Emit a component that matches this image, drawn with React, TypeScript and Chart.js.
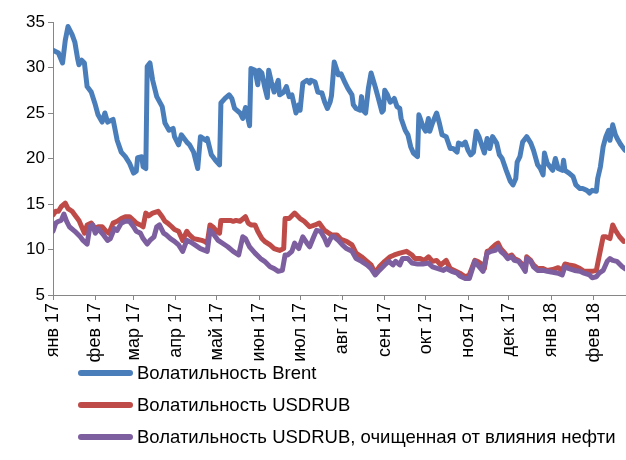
import React, { useEffect, useRef } from "react";
import { Chart, registerables } from "chart.js";

Chart.register(...registerables);

// x values are days since 1 Jan 2017
const monthStarts = [0, 31, 59, 90, 120, 151, 181, 212, 243, 273, 304, 334, 365, 396];
const monthLabels = [
  "янв 17", "фев 17", "мар 17", "апр 17", "май 17", "июн 17", "июл 17",
  "авг 17", "сен 17", "окт 17", "ноя 17", "дек 17", "янв 18", "фев 18",
];

const brentDays = [
  0, 4, 7, 9, 11, 14, 16, 18, 19, 21, 23, 25, 28, 31, 33, 36, 38, 40, 44, 47,
  50, 53, 56, 59, 61, 62, 65, 66, 68, 69, 71, 73, 76, 80, 82, 85, 88, 89, 92, 94,
  98, 100, 103, 106, 108, 112, 113, 116, 119, 122, 123, 126, 129, 131, 133, 137, 139, 141, 144, 145,
  148, 150, 151, 153, 155, 157, 158, 160, 162, 165, 166, 169, 171, 173, 175, 178, 180, 181, 183, 186,
  188, 189, 192, 194, 197, 199, 201, 203, 204, 206, 208, 209, 211, 214, 216, 219, 220, 222, 225, 226,
  227, 229, 231, 233, 236, 238, 241, 242, 243, 245, 247, 249, 250, 252, 254, 255, 258, 260, 262, 264,
  267, 268, 269, 271, 273, 275, 276, 278, 281, 283, 285, 288, 291, 293, 296, 297, 300, 302, 304, 306,
  308, 310, 312, 314, 316, 318, 320, 322, 325, 327, 329, 332, 335, 337, 339, 340, 342, 344, 347, 350,
  352, 355, 357, 359, 360, 362, 365, 366, 368, 370, 373, 374, 375, 378, 381, 383, 386, 388, 391, 393,
  395, 398, 399, 401, 403, 405, 407, 408, 410, 412, 414, 416, 419,
];
const brentVals = [
  31.9, 31.6, 30.5, 33.0, 34.5, 33.6, 32.8, 31.0, 30.3, 30.8, 30.5, 27.9, 27.3, 25.9, 24.8, 24.0, 25.0, 24.0, 24.3, 22.0,
  20.7, 20.2, 19.5, 18.4, 18.6, 20.1, 20.2, 19.1, 18.9, 30.1, 30.5, 28.6, 26.8, 25.7, 23.9, 23.1, 23.3, 22.4, 21.5, 22.6,
  21.8, 21.5, 20.7, 18.9, 22.4, 22.0, 22.2, 20.4, 19.8, 19.3, 26.1, 26.6, 27.0, 26.6, 25.5, 25.0, 24.4, 25.6, 23.6, 29.9,
  29.7, 28.1, 29.7, 29.4, 27.9, 26.7, 29.7, 28.4, 27.3, 28.6, 27.0, 27.3, 27.9, 26.8, 27.0, 25.0, 25.9, 25.3, 28.3, 28.6,
  28.3, 28.6, 28.4, 27.3, 27.2, 26.2, 25.5, 26.2, 26.9, 30.6, 29.7, 29.2, 29.3, 28.3, 27.7, 27.0, 25.9, 25.5, 25.3, 26.8,
  25.3, 25.0, 27.7, 29.4, 27.9, 26.8, 25.1, 25.3, 27.5, 27.0, 26.2, 26.4, 26.6, 25.7, 25.5, 24.4, 23.1, 22.6, 21.3, 20.6,
  20.2, 24.8, 24.4, 23.5, 23.0, 24.4, 23.0, 23.9, 25.0, 23.9, 22.6, 22.4, 21.1, 21.1, 20.7, 21.7, 21.5, 21.8, 20.9, 20.4,
  20.7, 23.0, 22.4, 21.5, 20.6, 22.2, 21.1, 22.4, 21.7, 20.4, 20.0, 18.7, 17.5, 17.1, 17.8, 19.6, 20.2, 21.8, 22.4, 21.7,
  20.9, 19.3, 18.9, 18.2, 20.6, 19.5, 18.9, 18.7, 20.0, 18.9, 18.7, 19.8, 18.7, 18.4, 18.0, 17.1, 16.7, 16.7, 16.5, 16.2,
  16.5, 16.4, 17.8, 19.1, 21.3, 22.4, 23.1, 22.0, 23.7, 22.6, 22.0, 21.5, 20.9,
];

const rubDays = [
  0, 2, 4, 6, 9, 11, 14, 16, 19, 21, 23, 25, 28, 31, 33, 36, 39, 41, 44, 47,
  50, 53, 56, 59, 61, 64, 66, 68, 70, 73, 77, 80, 82, 84, 87, 89, 92, 95, 98, 100,
  103, 106, 109, 111, 113, 115, 117, 120, 122, 123, 126, 130, 132, 134, 137, 141, 143, 145, 148, 150,
  153, 155, 159, 162, 166, 169, 170, 173, 177, 181, 184, 188, 192, 195, 199, 202, 204, 208, 211, 215,
  219, 222, 226, 230, 233, 236, 239, 243, 247, 250, 254, 259, 263, 265, 269, 272, 275, 278, 281, 284,
  288, 291, 294, 298, 302, 305, 309, 311, 314, 316, 318, 320, 321, 324, 326, 328, 331, 333, 336, 338,
  341, 343, 346, 347, 350, 352, 355, 359, 362, 366, 370, 373, 375, 378, 382, 386, 389, 392, 395, 398,
  400, 403, 405, 408, 410, 412, 415, 418,
];
const rubVals = [
  13.8, 14.2, 14.2, 14.7, 15.1, 14.5, 14.2, 13.8, 13.2, 12.5, 11.8, 12.7, 12.9, 12.3, 12.5, 12.5, 12.0, 11.8, 12.9, 13.1,
  13.4, 13.6, 13.6, 13.2, 12.9, 12.7, 12.5, 14.0, 13.7, 14.0, 14.2, 13.6, 13.1, 12.9, 12.5, 12.2, 12.0, 11.0, 12.0, 11.6,
  11.2, 11.1, 11.0, 10.9, 10.7, 12.7, 12.5, 12.0, 11.8, 13.2, 13.2, 13.2, 13.1, 13.2, 13.1, 13.6, 12.9, 12.7, 12.7, 12.0,
  11.2, 10.9, 10.5, 10.1, 9.9, 10.1, 13.4, 13.4, 14.0, 13.4, 13.1, 12.5, 12.7, 12.9, 12.1, 11.8, 11.6, 11.6, 11.1, 10.9,
  10.5, 9.6, 9.2, 8.7, 8.3, 7.4, 8.1, 8.7, 9.2, 9.4, 9.6, 9.8, 9.4, 9.0, 9.0, 8.8, 9.2, 8.7, 8.8, 8.3,
  8.8, 7.9, 7.7, 7.4, 7.0, 7.2, 8.8, 8.7, 8.4, 7.9, 9.8, 9.9, 10.1, 10.5, 10.7, 10.1, 9.6, 9.2, 9.4, 9.0,
  8.8, 8.5, 7.9, 9.2, 8.8, 8.3, 7.9, 7.9, 7.7, 7.8, 8.0, 7.7, 8.4, 8.3, 8.2, 7.9, 7.6, 7.6, 7.6, 7.7,
  9.2, 11.4, 11.4, 11.2, 12.7, 12.1, 11.4, 10.9,
];

const cleanDays = [
  0, 2, 4, 6, 8, 10, 12, 16, 20, 22, 25, 27, 29, 31, 33, 37, 40, 42, 45, 47,
  50, 53, 56, 59, 61, 64, 66, 69, 71, 74, 76, 78, 81, 83, 86, 89, 92, 95, 98, 101,
  104, 108, 113, 115, 117, 121, 125, 128, 132, 136, 139, 141, 144, 148, 152, 155, 159, 162, 165, 168,
  170, 172, 175, 177, 180, 183, 186, 188, 191, 193, 196, 199, 201, 204, 206, 209, 212, 215, 219, 222,
  226, 230, 233, 236, 239, 243, 246, 249, 251, 254, 256, 260, 263, 267, 271, 275, 278, 282, 286, 288,
  292, 296, 298, 302, 305, 309, 311, 315, 318, 321, 324, 326, 328, 331, 333, 336, 338, 341, 343, 346,
  347, 350, 352, 355, 359, 362, 366, 370, 373, 375, 378, 382, 386, 389, 393, 395, 398, 400, 403, 406,
  408, 410, 413, 417, 419,
];
const cleanVals = [
  12.0, 12.9, 13.1, 13.2, 13.9, 13.1, 12.5, 12.0, 11.4, 11.0, 10.6, 12.5, 12.7, 11.8, 12.3, 11.6, 11.0, 11.2, 12.3, 12.1,
  12.9, 13.1, 13.1, 12.5, 12.0, 11.8, 11.2, 10.6, 11.0, 11.4, 12.5, 12.7, 11.8, 11.6, 11.2, 10.9, 10.5, 9.8, 11.0, 10.8,
  10.5, 10.1, 9.8, 12.1, 11.8, 11.0, 10.6, 10.3, 9.8, 9.4, 11.4, 11.2, 10.3, 9.6, 9.0, 8.7, 8.1, 7.9, 7.6, 7.7,
  9.4, 9.4, 9.8, 10.7, 10.1, 11.4, 10.7, 10.3, 11.4, 12.1, 12.0, 11.2, 10.5, 11.4, 11.4, 11.0, 10.5, 10.1, 9.8, 9.0,
  8.7, 8.3, 7.9, 7.2, 7.7, 8.3, 8.7, 8.3, 8.7, 8.3, 9.0, 9.0, 8.5, 8.4, 8.4, 8.5, 8.1, 7.9, 7.7, 7.9,
  7.6, 7.4, 7.1, 6.8, 6.8, 8.7, 8.3, 7.6, 9.6, 9.8, 9.9, 10.3, 9.8, 9.4, 9.0, 9.2, 8.8, 8.7, 8.3, 7.6,
  9.0, 8.7, 8.1, 7.7, 7.7, 7.6, 7.5, 7.4, 7.2, 8.1, 7.9, 7.7, 7.6, 7.4, 7.2, 6.9, 7.0, 7.4, 7.7, 8.7,
  9.0, 8.8, 8.7, 8.1, 7.9,
];

const seriesNames = [
  "Волатильность Brent",
  "Волатильность USDRUB",
  "Волатильность USDRUB, очищенная от влияния нефти",
];
const seriesColors = ["#4A7EBB", "#BE4B48", "#7D5FA0"];

const FONT = "'Liberation Sans', Arial, sans-serif";

function toPoints(days: number[], vals: number[]) {
  return days.map((d, i) => ({ x: d, y: vals[i] }));
}

export default function App() {
  const canvasRef = useRef<HTMLCanvasElement | null>(null);

  useEffect(() => {
    if (!canvasRef.current) return;
    const mk = (idx: number, days: number[], vals: number[], order: number) => ({
      label: seriesNames[idx],
      data: toPoints(days, vals),
      borderColor: seriesColors[idx],
      backgroundColor: seriesColors[idx],
      borderWidth: 5,
      pointRadius: 0,
      tension: 0,
      borderJoinStyle: "round" as const,
      borderCapStyle: "round" as const,
      fill: false,
      order,
    });
    const chart = new Chart(canvasRef.current, {
      type: "line",
      data: {
        datasets: [
          mk(0, brentDays, brentVals, 2),
          mk(1, rubDays, rubVals, 1),
          mk(2, cleanDays, cleanVals, 0),
        ],
      },
      options: {
        responsive: false,
        animation: false,
        devicePixelRatio: 1,
        layout: { padding: { left: 0, right: 1, top: 22, bottom: 0 } },
        plugins: {
          legend: { display: false },
          tooltip: { enabled: false },
        },
        scales: {
          x: {
            type: "linear",
            min: 0,
            max: 419,
            afterBuildTicks: (scale: any) => {
              scale.ticks = monthStarts.map((v) => ({ value: v }));
            },
            afterFit: (scale: any) => {
              scale.height = 165;
            },
            ticks: {
              autoSkip: false,
              maxRotation: 90,
              minRotation: 90,
              padding: 3,
              color: "#000",
              font: { family: FONT, size: 18 },
              callback: (_v: any, i: number) => monthLabels[i],
            },
            grid: {
              display: true,
              drawOnChartArea: false,
              drawTicks: true,
              tickLength: 5,
              color: "#868686",
              lineWidth: 1,
            },
            border: { display: true, color: "#868686", width: 1 },
          },
          y: {
            min: 5,
            max: 35,
            afterFit: (scale: any) => {
              scale.width = 53;
            },
            ticks: {
              stepSize: 5,
              padding: 3,
              color: "#000",
              font: { family: FONT, size: 17 },
            },
            grid: {
              display: true,
              drawOnChartArea: false,
              drawTicks: true,
              tickLength: 5,
              color: "#868686",
              lineWidth: 1,
            },
            border: { display: true, color: "#868686", width: 1 },
          },
        },
      },
    } as any);
    return () => chart.destroy();
  }, []);

  const rowCenters = [373, 405, 437];

  return (
    <div style={{ position: "absolute", left: 0, top: 0, width: 626, height: 460, background: "#fff", overflow: "hidden" }}>
      <canvas ref={canvasRef} width={626} height={460} style={{ display: "block" }} />
      {seriesNames.map((name, i) => (
        <div
          key={name}
          style={{
            position: "absolute",
            left: 78,
            top: rowCenters[i] - 12,
            height: 24,
            display: "flex",
            alignItems: "center",
            whiteSpace: "nowrap",
          }}
        >
          <div style={{ width: 55, height: 6, borderRadius: 3, background: seriesColors[i] }} />
          <span style={{ marginLeft: 4, fontFamily: FONT, fontSize: 18.5, color: "#000", lineHeight: "24px" }}>{name}</span>
        </div>
      ))}
    </div>
  );
}
